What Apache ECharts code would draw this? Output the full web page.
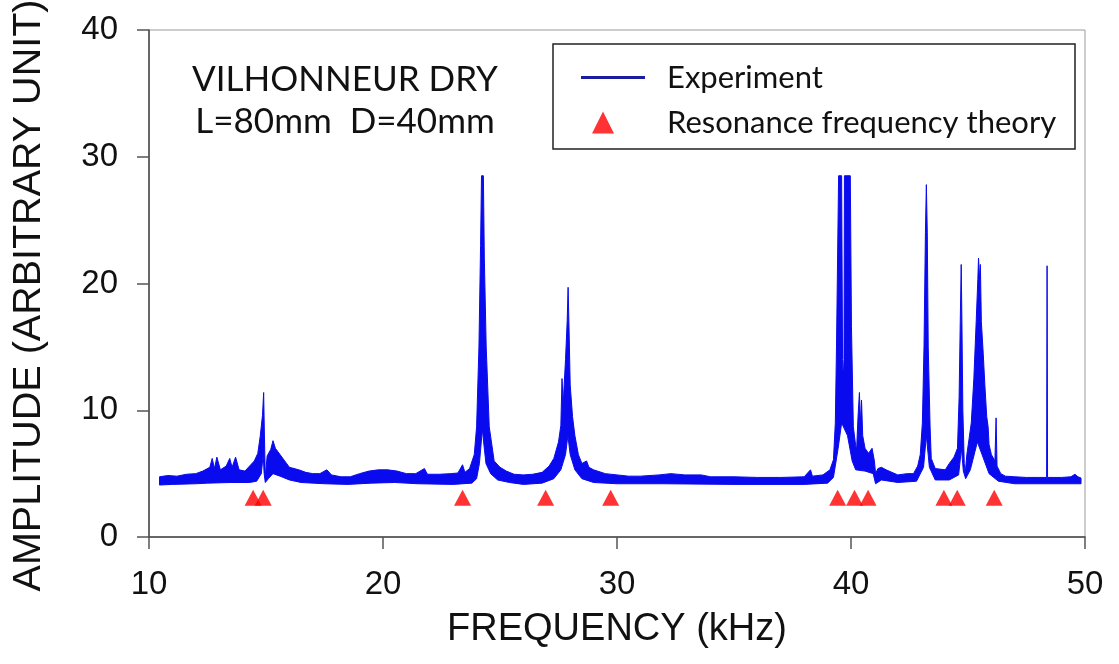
<!DOCTYPE html>
<html><head><meta charset="utf-8">
<script src="https://cdn.jsdelivr.net/npm/echarts@6/dist/echarts.min.js"></script>
<style>html,body{margin:0;padding:0;background:#fff}#c{width:1119px;height:664px}</style>
</head><body><div id="c"></div>
<script>
// ---- data ----
const X_TICKS = [10, 20, 30, 40, 50];           // kHz
const Y_TICKS = [0, 10, 20, 30, 40];            // arbitrary unit
// upper outline of the measured spectrum band [kHz, amplitude]
const EXP_UPPER = [
  [10.45,4.75],[10.8,4.85],[11.2,4.8],[11.6,4.95],[12.0,5.0],[12.3,5.2],[12.6,5.5],[12.7,6.2],[12.8,5.4],[12.9,6.3],
  [13.05,5.3],[13.3,5.6],[13.45,6.2],[13.55,5.5],[13.7,6.3],[13.85,5.3],[14.1,5.2],[14.3,5.6],[14.5,6.0],[14.65,6.6],
  [14.75,7.9],[14.85,9.6],[14.9,11.4],[14.93,8.2],[14.97,4.7],[15.05,6.4],[15.2,6.9],[15.3,7.6],[15.4,7.0],[15.6,6.5],
  [15.8,6.0],[16.0,5.5],[16.4,5.3],[16.7,5.1],[17.0,5.0],[17.3,5.0],[17.6,5.3],[17.8,4.9],[18.2,4.75],[18.6,4.75],
  [19.0,5.0],[19.4,5.2],[19.8,5.3],[20.2,5.3],[20.6,5.2],[21.0,5.0],[21.4,5.0],[21.77,5.4],[21.9,4.95],[22.4,4.95],
  [22.9,5.0],[23.2,5.05],[23.4,5.7],[23.5,5.1],[23.7,5.4],[23.9,6.5],[24.0,8.7],[24.1,15.0],[24.17,23.0],[24.21,28.5],
  [24.29,28.5],[24.33,22.0],[24.41,15.0],[24.54,8.7],[24.75,6.0],[25.0,5.5],[25.27,5.2],[25.6,4.95],[26.0,4.9],[26.4,4.95],
  [26.8,5.1],[27.1,5.6],[27.3,6.2],[27.5,7.5],[27.6,8.8],[27.65,12.5],[27.7,10.5],[27.8,14.0],[27.87,17.0],[27.91,19.7],
  [27.95,16.5],[28.0,12.0],[28.1,9.5],[28.2,8.0],[28.35,6.5],[28.5,5.8],[28.7,6.0],[28.8,5.5],[29.0,5.3],[29.5,5.0],
  [30.0,4.9],[30.5,4.8],[31.0,4.8],[31.8,4.9],[32.3,5.0],[32.9,4.9],[33.6,4.9],[34.0,4.75],[35.0,4.75],[36.0,4.7],
  [37.0,4.7],[38.0,4.75],[38.27,5.3],[38.35,4.8],[38.8,4.9],[39.1,5.3],[39.25,6.1],[39.33,9.0],[39.38,15.0],[39.47,28.5],
  [39.6,28.5],[39.64,14.0],[39.67,12.4],[39.7,14.0],[39.72,28.5],[39.97,28.5],[40.02,16.6],[40.1,8.7],
  [40.2,7.2],[40.24,6.9],[40.3,9.5],[40.36,11.4],[40.4,9.0],[40.45,10.8],[40.5,8.0],[40.6,7.0],[40.75,6.6],[40.9,7.0],
  [41.0,6.0],[41.05,5.0],[41.15,5.4],[41.3,5.5],[41.5,5.3],[42.0,4.9],[42.4,5.0],[42.67,5.0],[42.85,5.6],[42.96,6.5],
  [43.05,9.0],[43.12,15.0],[43.18,24.0],[43.22,27.8],[43.26,24.0],[43.3,15.0],[43.38,8.7],[43.43,6.2],[43.6,5.4],[44.03,5.3],
  [44.2,5.8],[44.4,6.3],[44.55,7.0],[44.62,11.0],[44.67,17.1],[44.71,21.5],[44.74,17.0],[44.78,10.0],[44.84,5.8],[44.88,5.0],
  [44.95,6.5],[45.05,7.8],[45.14,9.0],[45.25,12.5],[45.35,17.0],[45.42,20.3],[45.45,22.0],[45.5,20.3],[45.53,21.5],[45.57,17.0],
  [45.65,14.5],[45.72,12.0],[45.8,9.5],[45.86,8.7],[45.9,7.3],[46.0,6.5],[46.15,6.0],[46.2,9.4],[46.24,5.6],[46.4,5.0],
  [46.6,4.8],[47.0,4.75],[47.5,4.7],[48.0,4.7],[48.36,4.7],[48.38,21.4],[48.40,4.7],[49.0,4.7],[49.4,4.75],[49.57,4.95],
  [49.7,4.75],[49.83,4.65]
];
// lower outline of the measured spectrum band [kHz, amplitude]
const EXP_LOWER = [
  [10.45,4.1],[11.0,4.15],[12.0,4.2],[12.5,4.25],[13.5,4.3],[14.3,4.3],[14.6,4.4],[14.8,5.0],[14.88,6.5],[14.92,5.0],
  [14.97,4.3],[15.1,4.6],[15.3,5.0],[15.6,4.8],[16.0,4.5],[16.5,4.3],[17.5,4.2],[18.5,4.15],[19.5,4.25],[20.5,4.3],
  [21.5,4.2],[23.0,4.15],[23.8,4.25],[24.0,4.6],[24.12,5.8],[24.2,7.5],[24.25,8.5],[24.3,7.5],[24.4,5.8],[24.6,5.0],
  [24.9,4.5],[25.4,4.3],[26.0,4.15],[26.8,4.25],[27.3,4.6],[27.6,5.3],[27.8,6.5],[27.9,8.0],[28.0,6.5],[28.2,5.3],
  [28.5,4.6],[29.0,4.3],[30.0,4.2],[32.0,4.2],[35.0,4.15],[38.0,4.15],[39.0,4.25],[39.25,4.7],[39.45,7.0],[39.6,9.0],
  [39.85,8.0],[40.05,6.0],[40.2,5.3],[40.6,5.2],[40.95,5.0],[41.05,4.2],[41.3,4.5],[42.0,4.3],[42.8,4.4],[43.1,5.5],
  [43.22,8.0],[43.35,5.5],[43.6,4.5],[44.2,4.5],[44.6,4.9],[44.72,7.0],[44.8,5.2],[44.9,4.6],[45.1,5.3],[45.4,7.5],
  [45.6,6.5],[45.9,5.0],[46.3,4.4],[47.0,4.2],[49.83,4.2]
];
// theoretical resonance frequencies (kHz) and the level at which they are marked
const THEORY_FREQ  = [14.45, 14.88, 23.4, 26.95, 29.73, 39.43, 40.15, 40.73, 43.97, 44.54, 46.12];
const THEORY_LEVEL = [3.1, 3.1, 3.1, 3.1, 3.1, 3.1, 3.1, 3.1, 3.1, 3.1, 3.1];
const TITLE_LINES = ['VILHONNEUR DRY', 'L=80mm  D=40mm'];

const CAL = 'Lato, "Open Sans", sans-serif';
const ARI = '"Liberation Sans", Arial, sans-serif';
const BLUE = '#0a0aef';

const chart = echarts.init(document.getElementById('c'), null, {renderer: 'canvas'});
chart.setOption({
  animation: false,
  backgroundColor: '#fff',
  grid: {left: 149, right: 34, top: 30, bottom: 127, containLabel: false, outerBoundsMode: 'none',
         show: true, borderColor: '#9a9a9a', borderWidth: 1, backgroundColor: 'transparent'},
  xAxis: {
    type: 'value', min: X_TICKS[0], max: X_TICKS[X_TICKS.length - 1], interval: X_TICKS[1] - X_TICKS[0],
    name: 'FREQUENCY (kHz)', nameLocation: 'middle', nameGap: 74,
    nameTextStyle: {fontFamily: ARI, fontSize: 38, color: '#111'},
    axisLine: {show: true, onZero: false, lineStyle: {color: '#444', width: 1.5}},
    axisTick: {show: true, inside: false, length: 12, lineStyle: {color: '#555', width: 1.5}},
    axisLabel: {fontFamily: ARI, fontSize: 33, color: '#111', margin: 31},
    splitLine: {show: false}
  },
  yAxis: {
    type: 'value', min: Y_TICKS[0], max: Y_TICKS[Y_TICKS.length - 1], interval: Y_TICKS[1] - Y_TICKS[0],
    name: 'AMPLITUDE (ARBITRARY UNIT)', nameLocation: 'middle', nameGap: 100, nameRotate: 90,
    nameTextStyle: {fontFamily: ARI, fontSize: 39.5, color: '#111', padding: [0, 24, 0, 0]},
    axisLine: {show: true, onZero: false, lineStyle: {color: '#444', width: 1.5}},
    axisTick: {show: true, inside: false, length: 12, lineStyle: {color: '#555', width: 1.5}},
    axisLabel: {fontFamily: ARI, fontSize: 33, color: '#111', margin: 31},
    splitLine: {show: false}
  },
  legend: [
    {
      data: [{name: 'Experiment', icon: 'rect'}],
      left: 576, top: 57, itemWidth: 64, itemHeight: 3, selectedMode: false,
      textStyle: {fontFamily: CAL, fontSize: 31, color: '#111', padding: [0, 0, 0, 17]}
    },
    {
      data: [{name: 'Resonance frequency theory', icon: 'triangle'}],
      left: 587, top: 102, itemWidth: 22, itemHeight: 22, selectedMode: false,
      textStyle: {fontFamily: CAL, fontSize: 31, color: '#111', padding: [0, 0, 0, 48]}
    }
  ],
  graphic: [
    {type: 'rect', z: 1, shape: {x: 553, y: 44, width: 522, height: 105},
     style: {fill: '#fff', stroke: '#222', lineWidth: 1.5}},
    {type: 'text', z: 5, style: {text: TITLE_LINES[0], x: 345, y: 80, align: 'center', verticalAlign: 'middle',
      font: '35px ' + CAL, fill: '#111'}},
    {type: 'text', z: 5, style: {text: TITLE_LINES[1], x: 345, y: 122, align: 'center', verticalAlign: 'middle',
      font: '35px ' + CAL, fill: '#111'}}
  ],
  series: [
    {
      type: 'custom', name: 'Experiment', coordinateSystem: 'cartesian2d',
      data: EXP_UPPER, encode: {x: 0, y: 1}, silent: true, z: 2,
      itemStyle: {color: '#1c1ca0'},
      renderItem: function (params, api) {
        if (params.dataIndex !== 0) return null;
        const pts = EXP_UPPER.map(p => api.coord(p))
          .concat(EXP_LOWER.slice().reverse().map(p => api.coord(p)));
        return {type: 'polygon', shape: {points: pts},
          style: {fill: BLUE, stroke: BLUE, lineWidth: 1, lineJoin: 'miter'}};
      }
    },
    {
      type: 'scatter', name: 'Resonance frequency theory', z: 3, silent: true,
      symbol: 'triangle', symbolSize: [17, 16],
      itemStyle: {color: '#ff0000'},
      data: THEORY_FREQ.map((f, i) => [f, THEORY_LEVEL[i]])
    }
  ]
});
</script>
</body></html>
